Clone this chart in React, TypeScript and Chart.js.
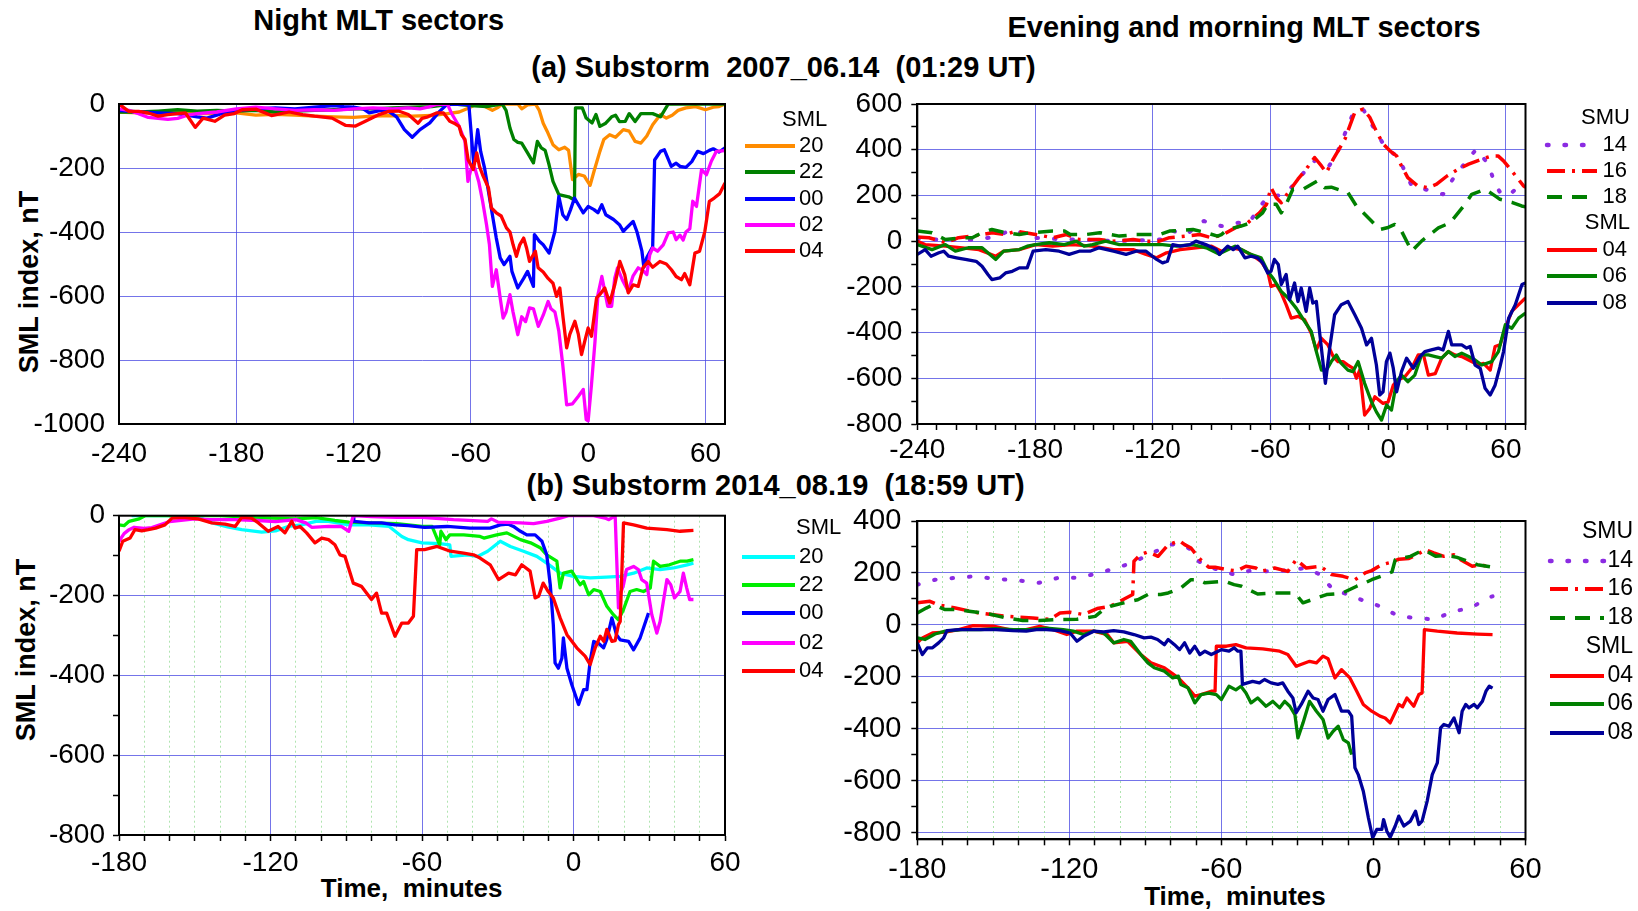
import React, { useEffect, useRef } from 'react';
import { Chart, registerables } from 'chart.js';

Chart.register(...registerables);

type P = [number, number];

// ---------------- tick labels ----------------
const TOP_X_LABELS = [-240, -180, -120, -60, 0, 60];
const BOTTOM_X_LABELS = [-180, -120, -60, 0, 60];
const TL_Y_LABELS = [0, -200, -400, -600, -800, -1000];
const TR_Y_LABELS = [600, 400, 200, 0, -200, -400, -600, -800];
const BL_Y_LABELS = [0, -200, -400, -600, -800];
const BR_Y_LABELS = [400, 200, 0, -200, -400, -600, -800];
const X_MINOR_STEP = 10;
const Y_MINOR_STEP = 100;

// ---------------- (a) 2007_06.14, night sectors: SML ----------------
const a_sml20: P[] = [[-240,-25],[-230,-28],[-220,-30],[-210,-25],[-200,-30],[-190,-30],[-180,-28],[-170,-35],[-160,-32],[-150,-35],[-140,-38],[-130,-40],[-120,-42],[-110,-38],[-100,-36],[-90,-38],[-80,-36],[-72,-30],[-66,-25],[-62,-15],[-58,-3],[-55,0],[-52,-10],[-49,-20],[-46,-10],[-44,0],[-36,0],[-34,-15],[-31,-3],[-27,0],[-25,-20],[-23,-60],[-21,-85],[-18,-127],[-15,-143],[-12,-135],[-10,-145],[-8,-236],[-5,-220],[-2,-225],[1,-254],[3,-210],[6,-148],[8,-111],[11,-96],[14,-104],[18,-80],[21,-85],[24,-117],[27,-122],[30,-100],[33,-65],[37,-33],[40,-44],[43,-35],[46,-20],[50,-12],[55,-8],[60,-18],[64,-10],[67,-8],[70,0]];
const a_sml22: P[] = [[-240,-25],[-230,-25],[-220,-22],[-210,-18],[-200,-22],[-190,-20],[-180,-22],[-170,-20],[-160,-25],[-150,-22],[-140,-20],[-130,-18],[-120,-15],[-110,-15],[-100,-12],[-90,-10],[-80,-8],[-72,-2],[-68,0],[-60,-5],[-52,-8],[-46,-2],[-44,0],[-42,-20],[-40,-75],[-38,-111],[-36,-120],[-34,-122],[-31,-153],[-28,-184],[-26,-117],[-24,-137],[-22,-145],[-20,-190],[-18,-242],[-15,-283],[-10,-290],[-7,-300],[-6.5,-12],[-3,-12],[-1,-44],[2,-59],[4,-33],[6,-70],[9,-60],[12,-40],[14,-35],[16,-55],[19,-54],[21,-30],[24,-55],[27,-30],[33,-30],[37,-40],[41,0],[70,0]];
const a_sml00: P[] = [[-240,-20],[-230,-25],[-220,-28],[-210,-30],[-200,-40],[-195,-44],[-190,-35],[-185,-25],[-180,-20],[-170,-15],[-160,-12],[-150,-15],[-140,-10],[-130,-5],[-125,-8],[-120,-10],[-115,-15],[-112,-28],[-106,-20],[-102,-23],[-98,-40],[-94,-80],[-90,-104],[-86,-80],[-81,-59],[-76,-23],[-72,0],[-62,-2],[-61,-5],[-58.5,-190],[-56.5,-80],[-55,-148],[-53,-200],[-51,-273],[-49,-346],[-47,-419],[-45,-481],[-43,-502],[-40,-476],[-39,-523],[-36,-575],[-33,-545],[-31,-523],[-28,-570],[-27.5,-408],[-25,-429],[-23,-440],[-20,-466],[-17,-398],[-15,-289],[-13,-346],[-11,-361],[-9,-330],[-7,-294],[-4,-325],[-2.5,-340],[0,-320],[3,-330],[5,-340],[7,-315],[9,-346],[13,-361],[16,-377],[18,-398],[20,-385],[23,-367],[25,-400],[27.5,-460],[28.5,-510],[30,-480],[33,-446],[34,-175],[37,-148],[39,-143],[42.5,-195],[45,-185],[47,-195],[50,-198],[53,-180],[56,-148],[59,-155],[62,-145],[64,-140],[67,-150],[70,-137]];
const a_sml02: P[] = [[-240,-15],[-235,-20],[-230,-30],[-225,-42],[-220,-45],[-215,-48],[-210,-45],[-205,-35],[-200,-30],[-190,-25],[-180,-15],[-170,-10],[-160,-15],[-150,-20],[-140,-18],[-130,-20],[-120,-15],[-110,-12],[-100,-15],[-92,-12],[-86,-15],[-82,-10],[-78,-2],[-72,0],[-70,-28],[-66,-70],[-63,-117],[-61.5,-242],[-60,-205],[-58,-200],[-56,-242],[-54,-304],[-52,-377],[-50.5,-440],[-49,-570],[-47,-518],[-45,-606],[-43.5,-669],[-42,-650],[-40,-596],[-38.5,-648],[-36,-721],[-34,-665],[-32,-680],[-30,-637],[-28,-640],[-25.5,-695],[-23,-660],[-20.5,-617],[-19,-640],[-17,-650],[-15,-710],[-13,-815],[-11,-940],[-8,-937],[-5,-913],[-2.5,-892],[-1,-986],[0,-990],[1.7,-877],[3.5,-742],[5,-596],[7,-539],[8.5,-585],[10,-632],[12,-632],[13.6,-544],[15,-512],[17.5,-550],[20.5,-585],[23,-537],[25.6,-512],[28,-520],[30,-533],[31.5,-471],[33,-450],[35.5,-460],[38.4,-440],[41,-403],[43.5,-400],[45,-424],[47,-410],[48.6,-425],[50,-400],[52,-390],[53.5,-304],[55.4,-320],[58,-205],[60.5,-221],[63,-179],[65.6,-148],[70,-146]];
const a_sml04: P[] = [[-240,0],[-235,-23],[-230,-23],[-225,-28],[-220,-38],[-215,-33],[-206,-28],[-201,-73],[-197,-44],[-191,-54],[-186,-35],[-181,-30],[-177,-18],[-170,-16],[-162,-36],[-153,-25],[-146,-33],[-140,-38],[-131,-44],[-124,-67],[-119,-69],[-114,-54],[-107,-33],[-102,-23],[-97,-22],[-92,-33],[-87,-60],[-85,-45],[-82,-40],[-77.6,-28],[-74,-28],[-70.8,-54],[-68,-62],[-66,-70],[-64.8,-96],[-63,-111],[-61.4,-174],[-58.8,-205],[-57,-153],[-55.6,-195],[-54,-221],[-51,-262],[-49.5,-325],[-47,-340],[-44.5,-350],[-41.8,-387],[-40,-400],[-38.4,-440],[-36.7,-476],[-35,-440],[-33,-419],[-31.5,-450],[-30,-492],[-27,-460],[-25.6,-512],[-23,-525],[-20.5,-545],[-18,-560],[-16.2,-601],[-14.5,-575],[-12.8,-669],[-11,-762],[-9.4,-720],[-6.8,-679],[-5,-720],[-3.4,-783],[-1.7,-740],[0,-700],[1.7,-726],[4.3,-606],[6,-595],[8.5,-575],[11,-622],[13.6,-565],[16.2,-492],[18.7,-533],[20.5,-590],[23,-565],[25.6,-570],[28,-512],[30.7,-492],[33,-510],[36.7,-492],[40,-500],[42.6,-518],[45,-539],[47.7,-549],[49.4,-530],[52,-565],[54.6,-466],[57,-460],[59.7,-398],[62,-304],[64.5,-294],[67.3,-280],[70,-247]];

// ---------------- (a) evening / morning sectors: SMU and SML ----------------
const a_smu14: P[] = [[-240,10],[-229,7],[-220,5],[-209.5,7],[-200,20],[-191.6,51],[-181,15],[-170,10],[-159,7],[-150,5],[-139,0],[-130,3],[-116,7],[-110,45],[-103,29],[-94,88],[-85,66],[-76.7,80],[-71,80],[-62,190],[-53,205],[-48.6,242],[-42,310],[-36.6,359],[-30,330],[-25.6,395],[-18,556],[-13,580],[-6,476],[-1,403],[5,370],[12,242],[16,235],[21.3,220],[28,205],[34,285],[40,351],[45,403],[51,337],[54.5,249],[58,200],[63,212],[68,250],[70,255]];
const a_smu16: P[] = [[-240,18],[-234,15],[-225.7,-7],[-219,15],[-208.6,26],[-201.8,37],[-195,29],[-190,44],[-179.7,29],[-171,15],[-164,29],[-157.5,7],[-147.3,7],[-140,0],[-130,7],[-123.4,0],[-116.6,0],[-111.5,15],[-103,22],[-96,29],[-90,15],[-84,29],[-78,58],[-71.6,80],[-65.6,124],[-62,161],[-59.7,234],[-57,190],[-54.5,168],[-51,212],[-46,271],[-41.8,315],[-37.5,366],[-34,329],[-31.5,300],[-28,359],[-22,447],[-17,564],[-12.8,578],[-9.4,542],[-7,498],[-2.6,425],[0.9,395],[4.3,373],[6.8,329],[10,278],[15,242],[20.5,234],[24.7,249],[30,285],[35.8,315],[41,337],[47.7,359],[52.8,373],[56,373],[58.8,351],[63,307],[69,242],[70,235]];
const a_smu18: P[] = [[-240,44],[-232.5,37],[-225.7,7],[-217,15],[-212,15],[-207,37],[-202,51],[-195,37],[-188,29],[-182,37],[-171,44],[-165,44],[-162,29],[-154,29],[-147,37],[-137,22],[-128.5,29],[-116.6,29],[-111.5,44],[-99.5,51],[-92.7,37],[-87,22],[-85,29],[-81.8,51],[-75,66],[-70,80],[-64,124],[-61.4,161],[-57,161],[-54.5,124],[-52,161],[-48.6,227],[-43.5,227],[-36,264],[-32.4,234],[-29,236],[-20.5,212],[-16.2,154],[-8.5,88],[-4.3,51],[0,60],[3.4,73],[6.8,44],[12,-44],[17,0],[25.6,58],[31.5,80],[39.2,161],[42.6,205],[49.4,227],[54.5,198],[57,183],[63,170],[68,154],[70,150]];
const a_sml04m: P[] = [[-240,0],[-236,-15],[-225.7,-22],[-217,-29],[-208.6,-37],[-200,-66],[-196,-44],[-188,-37],[-179.7,-15],[-171,-22],[-161,-15],[-150.7,-22],[-140,-37],[-130,-37],[-123.4,-58],[-118,-73],[-113,-51],[-106,-37],[-98,-29],[-90,-22],[-85,-44],[-80,-29],[-75,-37],[-70,-58],[-64.8,-88],[-61.4,-132],[-59.7,-198],[-57,-190],[-54.5,-227],[-52,-278],[-49.4,-337],[-46,-329],[-42.6,-344],[-39.2,-403],[-36.6,-476],[-34,-425],[-30.7,-454],[-28,-505],[-25.6,-527],[-23,-527],[-20.5,-542],[-18,-556],[-16.2,-600],[-14.5,-564],[-12,-761],[-9.4,-732],[-6.8,-681],[-2.6,-710],[0,-703],[2.6,-630],[5,-608],[8.5,-593],[12,-556],[15.3,-498],[18,-498],[20.5,-586],[24,-580],[27.3,-512],[30.7,-483],[34,-498],[37.5,-505],[41,-520],[46,-542],[48.6,-535],[52,-564],[54.5,-461],[57,-454],[59.7,-381],[63,-307],[66.5,-278],[70,-249]];
const a_sml06: P[] = [[-240,-15],[-232.5,-37],[-225.7,-15],[-220.6,-44],[-214,-29],[-207,-29],[-200,-80],[-196,-44],[-188,-37],[-184,-22],[-179.7,-15],[-172.8,-7],[-165,-15],[-159,0],[-155,-22],[-150.7,-15],[-144,0],[-137,-15],[-130,-15],[-123.4,-15],[-115,-15],[-108,-22],[-99.5,-15],[-92.7,-29],[-86,-58],[-85,-51],[-78,-22],[-70,-58],[-64.8,-73],[-61.4,-132],[-58.8,-161],[-54.5,-220],[-51,-249],[-46.9,-293],[-42.6,-351],[-39.2,-395],[-36.6,-483],[-34,-564],[-31.5,-564],[-29,-527],[-26.4,-498],[-24,-534],[-20.5,-564],[-18,-571],[-15.3,-527],[-12,-622],[-8.5,-703],[-6,-747],[-3.4,-783],[-0.8,-717],[1.7,-739],[4.3,-615],[6.8,-586],[10,-615],[13.6,-586],[17,-498],[20.5,-498],[24,-505],[27.3,-512],[30.7,-483],[34,-505],[37.5,-490],[41,-505],[44.3,-520],[47.7,-542],[52.8,-527],[56.2,-483],[59.7,-366],[63,-381],[66.5,-337],[70,-315]];
const a_sml08: P[] = [[-240,-58],[-236,-37],[-233,-66],[-229,-51],[-226.5,-44],[-224,-66],[-220,-73],[-215.5,-80],[-210,-88],[-207,-110],[-204,-146],[-202,-168],[-198,-161],[-195,-139],[-191.6,-132],[-188,-117],[-184,-117],[-181,-44],[-174.5,-37],[-167.7,-44],[-162.6,-58],[-157.5,-44],[-152,-44],[-147.3,-29],[-140,-44],[-133.6,-58],[-128.5,-44],[-123.4,-44],[-118,-80],[-115,-95],[-112.5,-88],[-109.8,-15],[-106,-22],[-101,-15],[-98,0],[-93,-15],[-87.6,-37],[-86,-58],[-81.8,-22],[-79,-37],[-76.7,-22],[-73,-73],[-70,-66],[-66.5,-73],[-64,-95],[-61.4,-139],[-59.7,-132],[-58,-80],[-56,-102],[-54.5,-190],[-52,-146],[-50.3,-256],[-47.7,-183],[-46,-264],[-44.3,-205],[-41.8,-307],[-40,-205],[-38.4,-271],[-36.6,-264],[-35,-395],[-32,-622],[-29.8,-468],[-27.3,-322],[-23.9,-278],[-20.5,-264],[-17,-322],[-13.6,-381],[-11,-454],[-8.5,-425],[-6,-542],[-4.3,-673],[-2.6,-659],[-0.9,-527],[0.9,-490],[2.6,-556],[4.3,-659],[6.8,-571],[9.4,-512],[12.8,-556],[16.2,-505],[18.7,-483],[22,-476],[25.6,-468],[28,-476],[30.7,-395],[32.4,-454],[35,-454],[37.5,-454],[40,-468],[41.8,-461],[44.3,-542],[46.9,-556],[49.4,-644],[52,-673],[54.5,-630],[57,-549],[58.8,-483],[61.4,-337],[64.8,-278],[68.2,-190],[70,-183]];

// ---------------- (b) 2014_08.19, night sectors: SML ----------------
const b_sml20: P[] = [[-175,0],[-150,0],[-146,-10],[-143,-18],[-137,-28],[-131.4,-35],[-123.5,-41],[-118,-38],[-113,-27],[-107.7,-23],[-102,-14],[-97,-14],[-89,-23],[-81,-23],[-73,-27],[-68,-52],[-65.4,-60],[-60,-68],[-53,-70],[-49,-73],[-48.5,-102],[-42,-98],[-38,-102],[-34,-89],[-29,-64],[-25,-77],[-19.8,-89],[-14.5,-102],[-10.6,-119],[-5.3,-144],[0,-152],[6.6,-156],[13,-154],[18.5,-152],[23.8,-144],[29,-131],[34.3,-135],[39.6,-131],[45,-123],[47.5,-119]];
const b_sml22: P[] = [[-180,-23],[-178,-25],[-176,-14],[-172,-8],[-169.7,0],[-150,0],[-140,0],[-126,-5],[-110,-8],[-102,-5],[-94.5,-12],[-89,-16],[-80,-18],[-70,-20],[-60,-27],[-56,-27],[-53,-73],[-52.5,-39],[-50.5,-60],[-49,-48],[-43.5,-48],[-37,-52],[-35.5,-56],[-30.4,-48],[-26.4,-43],[-21,-60],[-17,-68],[-13,-81],[-10.6,-98],[-6.6,-114],[-5.3,-181],[-4,-144],[-0.7,-139],[2.6,-173],[4,-165],[6,-198],[8,-185],[10.6,-190],[13.2,-227],[15.8,-248],[17.8,-261],[19.8,-235],[22.4,-190],[25,-185],[27.7,-190],[30.4,-181],[31.7,-114],[34.3,-127],[38,-123],[42.2,-114],[45,-114],[47.5,-110]];
const b_sml00: P[] = [[-87.2,0],[-87,-14],[-81,-18],[-76,-18],[-70.7,-23],[-65.4,-25],[-59,-29],[-50,-27],[-41,-31],[-33,-31],[-29,-23],[-26,-21],[-23.8,-27],[-21,-39],[-18.5,-48],[-15.2,-48],[-12.5,-64],[-10.6,-98],[-9.2,-173],[-8,-273],[-7.3,-369],[-6,-382],[-4.6,-357],[-4,-306],[-2.6,-382],[-0.7,-423],[2,-473],[4,-436],[5.3,-436],[6.6,-365],[8,-315],[10,-320],[11.9,-331],[13.2,-310],[15.2,-256],[17,-298],[18.5,-311],[21.8,-315],[23.8,-336],[26.4,-306],[29.7,-244]];
const b_sml02: P[] = [[-180,-64],[-178,-45],[-176,-35],[-174,-29],[-170,-32],[-167,-30],[-160,-15],[-150,-8],[-144,-10],[-134,-10],[-125,-12],[-118,-15],[-110,-10],[-106,-18],[-103.7,-29],[-97,-27],[-92,-27],[-89,-39],[-87.2,0],[-80,-2],[-70,-4],[-60,-4],[-47.5,-10],[-34,-14],[-32.5,-8],[-30,-16],[-21,-18],[-15.8,-20],[-10.6,-14],[-5.3,-6],[-2,0],[8,0],[12.5,-6],[14,-10],[15.5,-4],[16.5,0],[17.8,-231],[18.5,-198],[19.8,-173],[21,-135],[23.8,-127],[25.7,-135],[27,-160],[29,-169],[31,-248],[33,-294],[34.3,-265],[37,-160],[38.5,-173],[40,-206],[42.2,-190],[43.5,-144],[44.8,-180],[46,-210],[47.5,-210]];
const b_sml04: P[] = [[-180,-89],[-178.5,-64],[-175.6,-56],[-173.7,-35],[-171,-38],[-168.4,-35],[-165.5,-31],[-161.8,-23],[-159,-6],[-155,-4],[-148.6,-8],[-143.3,-18],[-138,-21],[-134,-27],[-131.4,-4],[-127.5,-6],[-124.8,-18],[-120.9,-39],[-117,-27],[-114.3,-43],[-111.6,-14],[-110.3,-31],[-108.3,-27],[-105.7,-43],[-102.4,-68],[-99.7,-56],[-97,-60],[-94.5,-73],[-92.5,-98],[-90.5,-102],[-87.2,-169],[-84,-177],[-80,-210],[-78,-194],[-76,-244],[-74,-244],[-70.7,-302],[-68,-269],[-65.4,-269],[-63.4,-252],[-62.1,-85],[-59,-85],[-54,-77],[-48.8,-89],[-43.5,-94],[-39.6,-98],[-37,-106],[-33,-123],[-29.7,-160],[-25.7,-144],[-23,-148],[-20.5,-123],[-17.2,-139],[-15.2,-206],[-13.8,-202],[-12,-169],[-10,-190],[-8,-206],[-5.3,-256],[-2.6,-298],[1.3,-331],[4.6,-352],[6.6,-373],[8.6,-331],[10.6,-302],[12,-315],[13.2,-285],[15.2,-315],[16.5,-313],[17.8,-273],[18.5,-265],[19.8,-18],[23.8,-23],[29,-31],[37,-35],[42.2,-39],[47.5,-37]];

// ---------------- (b) evening / morning sectors: SMU and SML ----------------
const b_smu14: P[] = [[-180,155],[-173,174],[-165,181],[-157.7,187],[-149,177],[-141,172],[-132,162],[-123.7,183],[-116.4,181],[-108.4,200],[-100.4,222],[-93.8,245],[-89,270],[-80,309],[-76,312],[-72,290],[-69.8,250],[-65,222],[-60,210],[-55,194],[-48,210],[-41,206],[-34,210],[-27,219],[-21,194],[-16,136],[-10,117],[-4,94],[2.6,72],[10,33],[16.6,27],[23.8,21],[31.8,53],[38.4,65],[45,104],[47,110]];
const b_smu16: P[] = [[-180,85],[-175,91],[-172,78],[-165,65],[-155.7,46],[-145,33],[-134.4,27],[-127.7,21],[-123.7,46],[-119.7,49],[-114.4,40],[-109,63],[-103.8,72],[-95,117],[-94.5,245],[-92,270],[-89,281],[-85,264],[-81,309],[-76.5,324],[-74.5,309],[-72,296],[-69,258],[-65,222],[-62.5,222],[-58,213],[-54,208],[-50.3,226],[-46.4,219],[-44.4,206],[-39,219],[-33.8,206],[-30.5,251],[-26.5,219],[-21,226],[-16.5,194],[-12,187],[-7.3,174],[-3.3,200],[-0.7,209],[3.3,232],[6.6,240],[10,253],[14,256],[17.2,270],[20.5,290],[23.8,277],[27.8,264],[31.8,270],[34.4,251],[39,226],[42.4,232],[47,219]];
const b_smu18: P[] = [[-180,46],[-176.5,65],[-173.6,78],[-169,59],[-165,59],[-159.6,53],[-151.6,42],[-145,27],[-138.4,17],[-131.7,17],[-123.7,21],[-117,22],[-109.8,33],[-106.5,59],[-103.8,72],[-98.5,85],[-93,97],[-89,117],[-84,117],[-81,123],[-76,142],[-72,174],[-69,174],[-66.5,162],[-58.5,168],[-55,155],[-52,149],[-45.7,119],[-39,123],[-31,123],[-27.8,85],[-18.5,117],[-12.6,121],[-6.6,149],[-3.3,162],[-0.7,174],[7.3,204],[8.6,251],[14.6,264],[19.9,290],[24.5,264],[29,268],[33,260],[41,232],[47,222]];
const b_sml04m: P[] = [[-180,-69],[-178,-50],[-174,-31],[-169,-28],[-163.6,-18],[-158,-3],[-150,-5],[-143.7,-18],[-137,-18],[-131.7,-5],[-126.4,-18],[-121,-37],[-117,-24],[-110.4,-24],[-105,-37],[-102.5,-69],[-97,-63],[-91.8,-114],[-87.8,-146],[-82.5,-165],[-77,-204],[-73.2,-242],[-70.5,-274],[-68,-268],[-64,-255],[-62.5,-255],[-62,-82],[-58,-82],[-54.3,-76],[-50.3,-88],[-43.7,-92],[-37,-101],[-33.8,-114],[-30.5,-159],[-25.2,-140],[-22.5,-146],[-19.9,-120],[-17.9,-130],[-15.2,-204],[-12.6,-172],[-9.3,-204],[-6.6,-255],[-4,-306],[-0.7,-332],[2.6,-351],[4.6,-358],[6.6,-377],[10,-306],[11.5,-315],[13.2,-281],[15.9,-313],[17.9,-268],[19.2,-262],[20.1,-18],[25.2,-24],[33,-31],[41,-35],[47,-37]];
const b_sml06: P[] = [[-180,-50],[-177,-56],[-173,-35],[-169,-24],[-162.3,-18],[-155,-18],[-149,-14],[-142,-18],[-135.7,-18],[-129,-12],[-122.4,-18],[-118.4,-24],[-114.4,-37],[-110.4,-24],[-106.4,-31],[-102.5,-69],[-98.5,-56],[-95.8,-63],[-91.8,-114],[-89,-146],[-86.5,-165],[-82.5,-178],[-79.2,-204],[-77,-197],[-76,-229],[-73.2,-242],[-70.5,-300],[-68,-268],[-65,-262],[-62,-268],[-60,-287],[-57,-236],[-54.3,-250],[-52.3,-236],[-50.3,-262],[-48.3,-300],[-45.7,-281],[-42.4,-313],[-39.7,-294],[-37,-319],[-35,-294],[-33,-313],[-31,-345],[-29.8,-435],[-27.8,-377],[-25.2,-294],[-22.5,-332],[-19.9,-364],[-17.9,-435],[-15.9,-409],[-13.9,-390],[-11.9,-441],[-9.9,-454],[-8.6,-499]];
const b_sml08: P[] = [[-180,-69],[-178,-114],[-176,-88],[-174,-88],[-171.6,-69],[-169.6,-50],[-168.3,-22],[-163.6,-18],[-155.7,-18],[-149,-18],[-142.4,-22],[-137,-24],[-133,-18],[-129,-18],[-123.7,-22],[-119.7,-31],[-117,-63],[-114.4,-44],[-110.4,-24],[-106.4,-27],[-102.5,-22],[-98.5,-27],[-94.5,-37],[-90.5,-50],[-87.8,-47],[-85.2,-56],[-82.5,-76],[-81,-56],[-78.5,-76],[-76.5,-95],[-74.5,-69],[-72.5,-108],[-70.5,-82],[-68.5,-114],[-66.5,-101],[-64,-114],[-61.3,-101],[-60,-95],[-57,-101],[-55,-88],[-53.5,-101],[-52.3,-101],[-51.7,-229],[-49.7,-223],[-47.7,-217],[-45,-223],[-43,-210],[-40.4,-223],[-37.7,-229],[-35.8,-223],[-33.8,-255],[-31.8,-281],[-30.5,-338],[-28.5,-306],[-25.8,-255],[-23.8,-281],[-21.9,-287],[-19.9,-332],[-17.9,-287],[-15.2,-268],[-12.6,-332],[-9.9,-332],[-8.6,-351],[-7.3,-550],[-6,-576],[-4,-640],[-2,-742],[-0.3,-819],[1.3,-787],[3.3,-787],[4,-749],[5.3,-794],[6.6,-817],[8.6,-774],[10,-736],[12,-774],[14.6,-755],[16.6,-717],[17.9,-768],[19.2,-755],[21.2,-678],[23.2,-576],[25.2,-531],[26.5,-396],[27.8,-383],[29.8,-390],[31.8,-358],[33.8,-415],[35,-332],[36.4,-306],[37.7,-319],[39.7,-306],[41,-319],[43,-294],[44.4,-255],[45.7,-236],[47,-243]];

// ---------------- styling ----------------
const W = 1638;
const H = 911;
const FONT = '"Liberation Sans", Arial, Helvetica, sans-serif';
const GRID_BLUE = 'rgba(70,70,225,0.75)';
const MINOR_GREEN = 'rgba(110,205,110,0.55)';

const DOTTED = { dash: [1.5, 16], cap: 'round', width: 4 };
const DASHDOT = { dash: [18, 7, 3, 7], cap: 'butt', width: 3.5 };
const DASHED = { dash: [15, 10], cap: 'butt', width: 3.5 };
const SOLID = { dash: [] as number[], cap: 'butt', width: 3.3 };

type Series = { label: string; data: P[]; color: string; style: { dash: number[]; cap: string; width: number } };

function range(min: number, max: number, step: number): number[] {
  const out: number[] = [];
  const start = Math.ceil(min / step) * step;
  for (let v = start; v <= max + 1e-9; v += step) out.push(Math.round(v));
  return out;
}

const framePlugin = {
  id: 'frame',
  afterDatasetsDraw(chart: any) {
    const { ctx, chartArea: a } = chart;
    ctx.save();
    ctx.strokeStyle = '#000';
    ctx.lineWidth = 2;
    ctx.strokeRect(a.left, a.top, a.right - a.left, a.bottom - a.top);
    ctx.restore();
  },
};

const sideLegend = {
  id: 'sideLegend',
  afterDraw(chart: any, _args: any, opts: any) {
    const { ctx } = chart;
    ctx.save();
    ctx.font = `${opts.size}px ${FONT}`;
    ctx.fillStyle = '#000';
    ctx.textBaseline = 'middle';
    for (const h of opts.headers) {
      ctx.textAlign = h.align;
      ctx.fillText(h.text, h.x, h.y);
    }
    chart.data.datasets.forEach((ds: any, i: number) => {
      const y = opts.rowsY[i];
      ctx.save();
      ctx.strokeStyle = ds.borderColor;
      ctx.lineWidth = ds.borderWidth + 0.5;
      ctx.setLineDash(ds.borderDash || []);
      ctx.lineCap = ds.borderCapStyle || 'butt';
      ctx.beginPath();
      ctx.moveTo(opts.x1, y);
      ctx.lineTo(opts.x2, y);
      ctx.stroke();
      ctx.restore();
      ctx.textAlign = opts.textAlign;
      ctx.fillText(ds.label, opts.textX, y);
    });
    ctx.restore();
  },
};

type PanelSpec = {
  series: Series[];
  area: [number, number, number, number];
  fontSize: number;
  x: { min: number; max: number; labels: number[]; minor: boolean; marks: boolean; pad: number; greenGrid: boolean };
  y: { min: number; max: number; labels: number[]; minor: boolean; marks: boolean; pad: number };
  legend: any;
};

const Y_AXIS_W = 110;
const X_AXIS_H = 50;

function buildConfig(p: PanelSpec): any {
  const [l, t, r, b] = p.area;
  const n = p.series.length;
  const tickFont = { family: FONT, size: p.fontSize };
  const xTicks = p.x.minor ? range(p.x.min, p.x.max, X_MINOR_STEP) : p.x.labels;
  const yTicks = p.y.minor ? range(p.y.min, p.y.max, Y_MINOR_STEP) : p.y.labels;
  const greenVals = range(p.x.min + 1, p.x.max - 1, X_MINOR_STEP).filter((v) => !p.x.labels.includes(v));

  const scales: any = {
    x: {
      type: 'linear',
      position: 'bottom',
      min: p.x.min,
      max: p.x.max,
      afterBuildTicks: (s: any) => { s.ticks = xTicks.map((v) => ({ value: v })); },
      afterFit: (s: any) => { s.height = X_AXIS_H; },
      ticks: {
        autoSkip: false, maxRotation: 0, minRotation: 0, padding: p.x.pad, color: '#000', font: tickFont,
        callback: (v: number) => (p.x.labels.includes(v) ? String(v) : ''),
      },
      grid: {
        drawTicks: p.x.marks, tickLength: 6, tickWidth: 1.5, tickColor: '#000', lineWidth: 1,
        color: (c: any) => (c.tick && p.x.labels.includes(c.tick.value) ? GRID_BLUE : 'rgba(0,0,0,0)'),
      },
      border: { display: true, color: '#000', width: 2 },
    },
    y: {
      type: 'linear',
      position: 'left',
      min: p.y.min,
      max: p.y.max,
      afterBuildTicks: (s: any) => { s.ticks = yTicks.map((v) => ({ value: v })); },
      afterFit: (s: any) => { s.width = Y_AXIS_W; },
      ticks: {
        autoSkip: false, padding: p.y.pad, color: '#000', font: tickFont,
        callback: (v: number) => (p.y.labels.includes(v) ? String(v) : ''),
      },
      grid: {
        drawTicks: p.y.marks, tickLength: 6, tickWidth: 1.5, tickColor: '#000', lineWidth: 1,
        color: (c: any) => (c.tick && p.y.labels.includes(c.tick.value) ? GRID_BLUE : 'rgba(0,0,0,0)'),
      },
      border: { display: true, color: '#000', width: 2 },
    },
  };
  if (p.x.greenGrid) {
    scales.x2 = {
      type: 'linear',
      position: 'bottom',
      min: p.x.min,
      max: p.x.max,
      afterBuildTicks: (s: any) => { s.ticks = greenVals.map((v) => ({ value: v })); },
      afterFit: (s: any) => { s.height = 0; },
      ticks: { display: false, autoSkip: false },
      grid: { drawTicks: false, color: MINOR_GREEN, lineWidth: 1 },
      border: { display: false, dash: [2, 3] },
    };
  }

  return {
    type: 'line',
    data: {
      datasets: p.series.map((s, i) => ({
        label: s.label,
        data: s.data.map(([x, y]) => ({ x, y })),
        borderColor: s.color,
        backgroundColor: s.color,
        borderWidth: s.style.width,
        borderDash: s.style.dash,
        borderCapStyle: s.style.cap,
        borderJoinStyle: 'round',
        pointRadius: 0,
        tension: 0,
        fill: false,
        order: n - i,
      })),
    },
    options: {
      responsive: false,
      animation: false,
      devicePixelRatio: 1,
      events: [],
      layout: { padding: { left: l - Y_AXIS_W, top: t, right: W - r, bottom: H - b - X_AXIS_H } },
      scales,
      plugins: { legend: { display: false }, tooltip: { enabled: false }, sideLegend: p.legend },
    },
    plugins: [framePlugin, sideLegend],
  };
}

const PANELS: PanelSpec[] = [
  {
    series: [
      { label: '20', data: a_sml20, color: '#FF8C00', style: SOLID },
      { label: '22', data: a_sml22, color: '#008000', style: SOLID },
      { label: '00', data: a_sml00, color: '#0000FF', style: SOLID },
      { label: '02', data: a_sml02, color: '#FF00FF', style: SOLID },
      { label: '04', data: a_sml04, color: '#FF0000', style: SOLID },
    ],
    area: [119, 104, 725, 424],
    fontSize: 28,
    x: { min: -240, max: 70, labels: TOP_X_LABELS, minor: false, marks: false, pad: 13, greenGrid: false },
    y: { min: -1000, max: 0, labels: TL_Y_LABELS, minor: false, marks: false, pad: 14 },
    legend: { size: 22, headers: [{ text: 'SML', x: 782, y: 120, align: 'left' }], x1: 745, x2: 795, textX: 799, textAlign: 'left', rowsY: [146, 172, 199, 225, 251] },
  },
  {
    series: [
      { label: '14', data: a_smu14, color: '#8B2BE2', style: DOTTED },
      { label: '16', data: a_smu16, color: '#FF0000', style: DASHDOT },
      { label: '18', data: a_smu18, color: '#008000', style: DASHED },
      { label: '04', data: a_sml04m, color: '#FF0000', style: SOLID },
      { label: '06', data: a_sml06, color: '#008000', style: SOLID },
      { label: '08', data: a_sml08, color: '#000099', style: SOLID },
    ],
    area: [917.3, 104, 1525.5, 424],
    fontSize: 28,
    x: { min: -240, max: 70, labels: TOP_X_LABELS, minor: true, marks: true, pad: 3, greenGrid: false },
    y: { min: -800, max: 600, labels: TR_Y_LABELS, minor: true, marks: true, pad: 9 },
    legend: { size: 22, headers: [{ text: 'SMU', x: 1630, y: 118, align: 'right' }, { text: 'SML', x: 1630, y: 223, align: 'right' }], x1: 1547, x2: 1597, textX: 1627, textAlign: 'right', rowsY: [145, 171, 197, 250, 276, 303] },
  },
  {
    series: [
      { label: '20', data: b_sml20, color: '#00FFFF', style: SOLID },
      { label: '22', data: b_sml22, color: '#00EE00', style: SOLID },
      { label: '00', data: b_sml00, color: '#0000FF', style: SOLID },
      { label: '02', data: b_sml02, color: '#FF00FF', style: SOLID },
      { label: '04', data: b_sml04, color: '#FF0000', style: SOLID },
    ],
    area: [119, 515.7, 725, 835],
    fontSize: 28,
    x: { min: -180, max: 60, labels: BOTTOM_X_LABELS, minor: true, marks: true, pad: 5, greenGrid: true },
    y: { min: -800, max: 0, labels: BL_Y_LABELS, minor: true, marks: true, pad: 8 },
    legend: { size: 22, headers: [{ text: 'SML', x: 796, y: 528, align: 'left' }], x1: 742, x2: 795, textX: 799, textAlign: 'left', rowsY: [557, 585, 613, 643, 671] },
  },
  {
    series: [
      { label: '14', data: b_smu14, color: '#8B2BE2', style: DOTTED },
      { label: '16', data: b_smu16, color: '#FF0000', style: DASHDOT },
      { label: '18', data: b_smu18, color: '#008000', style: DASHED },
      { label: '04', data: b_sml04m, color: '#FF0000', style: SOLID },
      { label: '06', data: b_sml06, color: '#008000', style: SOLID },
      { label: '08', data: b_sml08, color: '#000099', style: SOLID },
    ],
    area: [917.3, 521, 1525.5, 839.3],
    fontSize: 29,
    x: { min: -180, max: 60, labels: BOTTOM_X_LABELS, minor: true, marks: true, pad: 7, greenGrid: true },
    y: { min: -825, max: 400, labels: BR_Y_LABELS, minor: true, marks: true, pad: 10 },
    legend: { size: 23, headers: [{ text: 'SMU', x: 1633, y: 532, align: 'right' }, { text: 'SML', x: 1633, y: 647, align: 'right' }], x1: 1550, x2: 1604, textX: 1633, textAlign: 'right', rowsY: [561, 589, 618, 676, 704, 733] },
  },
];

function Panel({ spec }: { spec: PanelSpec }) {
  const ref = useRef<HTMLCanvasElement | null>(null);
  useEffect(() => {
    if (!ref.current) return;
    const chart = new Chart(ref.current, buildConfig(spec));
    return () => chart.destroy();
  }, [spec]);
  return <canvas ref={ref} width={W} height={H} style={{ position: 'absolute', left: 0, top: 0, width: W, height: H }} />;
}

function Text({ text, cx, capTop, size, bold = true }: { text: string; cx: number; capTop: number; size: number; bold?: boolean }) {
  return (
    <div
      style={{
        position: 'absolute', left: cx, top: capTop - 0.13 * size, transform: 'translateX(-50%)',
        fontFamily: FONT, fontSize: size, fontWeight: bold ? 700 : 400, lineHeight: 1, whiteSpace: 'pre', color: '#000',
      }}
    >
      {text}
    </div>
  );
}

function VText({ text, cx, cy, size }: { text: string; cx: number; cy: number; size: number }) {
  return (
    <div
      style={{
        position: 'absolute', left: cx, top: cy, transform: 'translate(-50%, -50%) rotate(-90deg)',
        fontFamily: FONT, fontSize: size, fontWeight: 700, lineHeight: 1, whiteSpace: 'pre', color: '#000',
      }}
    >
      {text}
    </div>
  );
}

export default function App() {
  return (
    <div style={{ position: 'fixed', left: 0, top: 0, width: W, height: H, background: '#fff', overflow: 'hidden' }}>
      <Text text="Night MLT sectors" cx={378.7} capTop={10} size={29} />
      <Text text="Evening and morning MLT sectors" cx={1244} capTop={16.7} size={29} />
      <Text text="(a) Substorm  2007_06.14  (01:29 UT)" cx={783.5} capTop={56.7} size={29} />
      <Text text="(b) Substorm 2014_08.19  (18:59 UT)" cx={775.6} capTop={475} size={29} />
      <Text text="Time,  minutes" cx={411.6} capTop={878} size={26} />
      <Text text="Time,  minutes" cx={1235} capTop={886.7} size={26} />
      <VText text="SML index, nT" cx={29} cy={282} size={27} />
      <VText text="SML index, nT" cx={26} cy={650} size={27} />
      {PANELS.map((p, i) => (
        <Panel key={i} spec={p} />
      ))}
    </div>
  );
}
